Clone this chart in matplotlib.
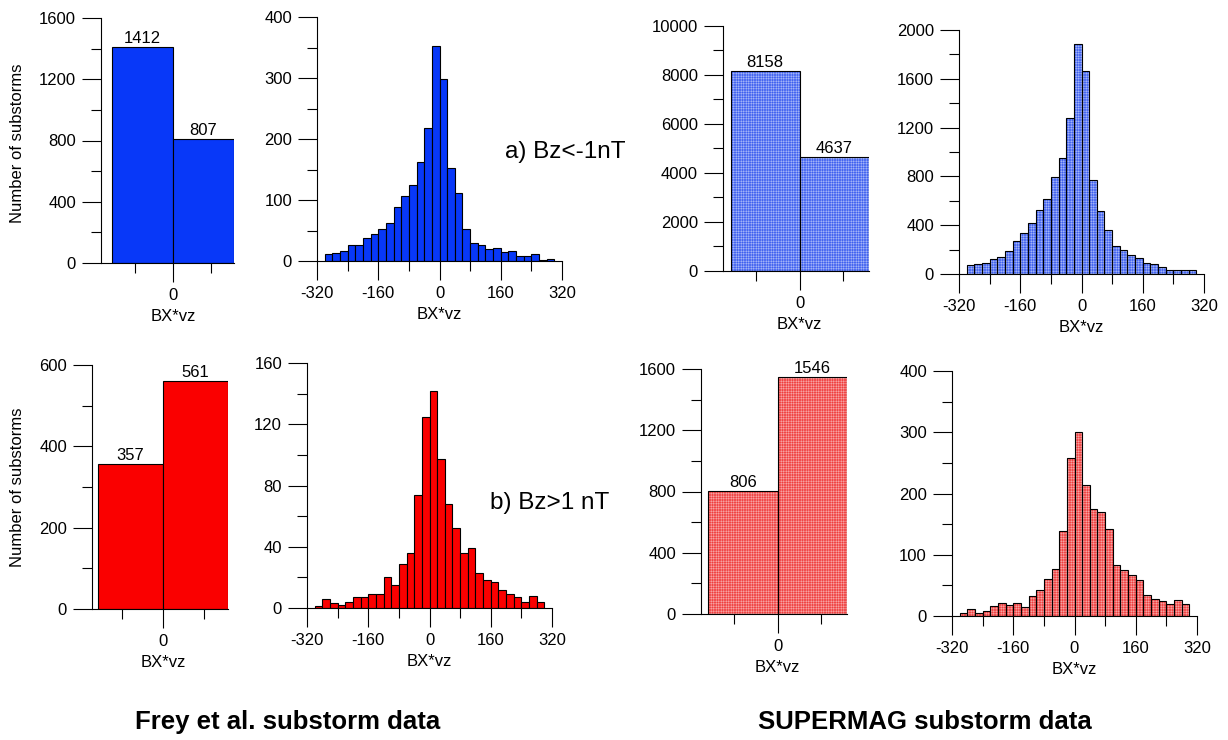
import matplotlib
matplotlib.use("Agg")
import matplotlib.pyplot as plt
import numpy as np
from matplotlib.ticker import MultipleLocator, FixedLocator

# Substorm counts for BX*vz < 0 and BX*vz > 0
frey_neg_pos = [1412, 807]        # a) Bz < -1 nT
frey_b_neg_pos = [357, 561]       # b) Bz > 1 nT
smag_neg_pos = [8158, 4637]
smag_b_neg_pos = [806, 1546]

# Histogram bins of BX*vz (left edges, width 20)
bin_left = np.arange(-300, 300, 20)

frey_a_hist = [12, 13, 17, 27, 26, 37, 45, 52, 63, 88, 107, 124, 163, 218, 352,
               299, 153, 111, 53, 29, 26, 20, 21, 14, 16, 9, 8, 11, 1, 3]
frey_b_hist = [1, 6, 3, 2, 4, 7, 7, 9, 9, 20, 15, 29, 36, 74, 125,
               142, 97, 68, 52, 36, 39, 23, 18, 17, 12, 9, 7, 4, 8, 4]
smag_a_hist = [71, 82, 90, 123, 139, 191, 267, 335, 414, 523, 613, 793, 948, 1276, 1883,
               1668, 774, 518, 360, 232, 196, 153, 128, 93, 82, 57, 35, 33, 30, 33]
smag_b_hist = [5, 11, 5, 8, 16, 21, 18, 21, 15, 33, 43, 60, 76, 139, 258,
               301, 214, 174, 169, 142, 84, 75, 67, 58, 34, 27, 24, 19, 26, 20]

W, H = 1228, 740
plt.rcParams['font.family'] = ['Liberation Sans', 'DejaVu Sans']
plt.rcParams['font.size'] = 12
plt.rcParams['axes.unicode_minus'] = False
plt.rcParams['hatch.linewidth'] = 0.35

fig = plt.figure(figsize=(W / 100, H / 100), dpi=100)


def add_axes(left, right, top, bottom):
    return fig.add_axes([left / W, 1 - bottom / H, (right - left) / W, (bottom - top) / H])


def style(ax, ymax, ymaj, ymin):
    for s in ['top', 'right']:
        ax.spines[s].set_visible(False)
    for s in ['left', 'bottom']:
        ax.spines[s].set_linewidth(0.8)
    ax.set_ylim(0, ymax)
    ax.yaxis.set_major_locator(MultipleLocator(ymaj))
    ax.yaxis.set_minor_locator(MultipleLocator(ymin))
    ax.tick_params(which='major', direction='out', length=14, width=0.8, pad=4)
    ax.tick_params(which='minor', direction='out', length=7, width=0.8)


def draw(ax, x, h, width, face, hatch_col, align='center'):
    if hatch_col is None:
        ax.bar(x, h, width, color=face, edgecolor='black', linewidth=0.8, align=align)
    else:
        # light fill with a fine dotted screen, then a black outline on top
        ax.bar(x, h, width, color=face, edgecolor=hatch_col, linewidth=0,
               hatch='+' * 10, align=align)
        ax.bar(x, h, width, fill=False, edgecolor='black', linewidth=0.8, align=align)


def bar_panel(rect, xl, counts, ymax, ymaj, ymin, face, hatch_col):
    ax = add_axes(*rect)
    draw(ax, [-0.5, 0.5], counts, 1.0, face, hatch_col)
    for xi, c in zip([-0.5, 0.5], counts):
        ax.text(xi, c + ymax * 0.004, str(c), ha='center', va='bottom', fontsize=12)
    ax.set_xlim(xl, 1.0)
    style(ax, ymax, ymaj, ymin)
    ax.xaxis.set_major_locator(FixedLocator([0]))
    ax.xaxis.set_minor_locator(FixedLocator([-0.63, 0.63]))
    ax.set_xticklabels(['0'])
    ax.set_xlabel('BX*vz', x=(0 - xl) / (1 - xl), labelpad=4)
    return ax


def hist_panel(rect, counts, ymax, ymaj, ymin, face, hatch_col):
    ax = add_axes(*rect)
    draw(ax, bin_left, counts, 20, face, hatch_col, align='edge')
    ax.set_xlim(-320, 320)
    style(ax, ymax, ymaj, ymin)
    ax.xaxis.set_major_locator(MultipleLocator(160))
    ax.xaxis.set_minor_locator(FixedLocator([-240, -80, 80, 240]))
    ax.set_xlabel('BX*vz', labelpad=4)
    return ax


blue = '#0838f8'
red = '#fa0000'
lblue, lblue_h = '#b4c2f8', '#3a5cf0'
lred, lred_h = '#f8b4b4', '#f03a3a'

bar_panel((101, 234, 18, 263), -1.18, frey_neg_pos, 1600, 400, 200, blue, None)
hist_panel((317, 562, 17, 261), frey_a_hist, 400, 100, 50, blue, None)
bar_panel((723, 869, 26, 271), -1.11, smag_neg_pos, 10000, 2000, 1000, lblue, lblue_h)
hist_panel((959, 1204, 30, 274), smag_a_hist, 2000, 400, 200, lblue, lblue_h)

bar_panel((92, 228, 365, 609), -1.09, frey_b_neg_pos, 600, 200, 100, red, None)
hist_panel((307, 552, 363, 608), frey_b_hist, 160, 40, 20, red, None)
bar_panel((701, 847, 369, 614), -1.105, smag_b_neg_pos, 1600, 400, 200, lred, lred_h)
hist_panel((952, 1197, 371, 616), smag_b_hist, 400, 100, 50, lred, lred_h)


def ftext(x, y, s, **kw):
    fig.text(x / W, 1 - y / H, s, **kw)


ftext(18, 143, 'Number of substorms', rotation=90, ha='center', va='center', fontsize=12)
ftext(18, 487, 'Number of substorms', rotation=90, ha='center', va='center', fontsize=12)
ftext(505, 152, 'a) Bz<-1nT', ha='left', va='center', fontsize=17.5)
ftext(490, 503, 'b) Bz>1 nT', ha='left', va='center', fontsize=17.5)
ftext(288, 722, 'Frey et al. substorm data', ha='center', va='center',
      fontsize=18.5, fontweight='bold')
ftext(925, 722, 'SUPERMAG substorm data', ha='center', va='center',
      fontsize=18.5, fontweight='bold')

fig.savefig('out.png', dpi=100)
